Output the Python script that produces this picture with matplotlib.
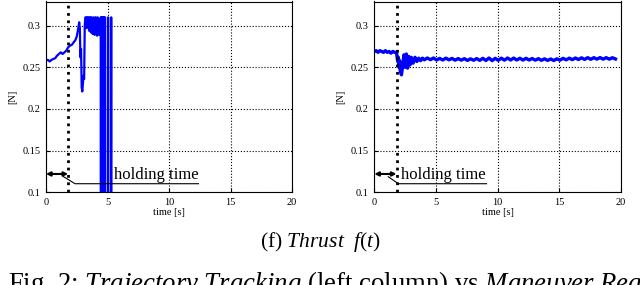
import matplotlib
matplotlib.use("Agg")
import matplotlib.pyplot as plt

plt.rcParams['font.family'] = ['Liberation Serif', 'DejaVu Serif']
plt.rcParams['mathtext.fontset'] = 'custom'
plt.rcParams['mathtext.rm'] = 'Liberation Serif'
plt.rcParams['mathtext.it'] = 'Liberation Serif:italic'

# trajectory tracking thrust (left)
left_t = [0.0, 0.15, 0.3, 0.45, 0.6, 0.75, 0.9, 1.05, 1.2, 1.35, 1.5, 1.65, 1.8, 1.95,
          2.1, 2.25, 2.4, 2.5, 2.6, 2.7, 2.75, 2.8, 2.85, 2.9, 2.95, 3.0, 3.05, 3.1,
          3.15, 3.2, 3.25, 3.3, 3.35, 3.4, 3.45, 3.5, 3.55, 3.6, 3.65, 3.7, 3.75, 3.8,
          3.85, 3.9, 3.95, 4.0, 4.05, 4.1, 4.15, 4.2, 4.25, 4.3,
          4.45, 4.485, 4.52, 4.555, 4.59, 4.625, 4.66, 4.695, 4.73, 4.765, 4.80, 4.92,
          5.05, 5.17, 5.30, 5.34, 20.0]
left_f = [0.258, 0.259, 0.257, 0.259, 0.260, 0.261, 0.264, 0.266, 0.268, 0.266, 0.268, 0.270, 0.274, 0.276,
          0.277, 0.280, 0.283, 0.287, 0.295, 0.304, 0.297, 0.262, 0.272, 0.226, 0.221, 0.230, 0.240, 0.236,
          0.300, 0.310, 0.310, 0.297, 0.310, 0.302, 0.310, 0.294, 0.310, 0.310, 0.292, 0.310, 0.296, 0.290,
          0.310, 0.291, 0.289, 0.310, 0.310, 0.290, 0.288, 0.310, 0.291, 0.289,
          0.310, -5.0, 0.310, -5.0, 0.310, -5.0, 0.310, -5.0, 0.310, -5.0, 0.310, -5.0,
          0.310, -5.0, 0.310, -5.0, -5.0]

# maneuver regulation thrust (right)
right_t = [0.0, 0.15, 0.3, 0.45, 0.6, 0.75, 0.9, 1.05, 1.2, 1.35, 1.5, 1.65, 1.8, 1.85,
           1.9, 1.95, 2.0, 2.05, 2.1, 2.2, 2.3, 2.4, 2.5, 2.6, 2.7, 2.8, 2.9, 3.0,
           3.15, 3.3, 3.45, 3.6, 3.75, 3.9, 4.05,
           4.3, 4.55, 4.8, 5.05, 5.3, 5.55, 5.8, 6.05, 6.3, 6.55, 6.8, 7.05, 7.3, 7.55,
           7.8, 8.05, 8.3, 8.55, 8.8, 9.05, 9.3, 9.55, 9.8, 10.05, 10.3, 10.55, 10.8,
           11.05, 11.3, 11.55, 11.8, 12.05, 12.3, 12.55, 12.8, 13.05, 13.3, 13.55, 13.8,
           14.05, 14.3, 14.55, 14.8, 15.05, 15.3, 15.55, 15.8, 16.05, 16.3, 16.55, 16.8,
           17.05, 17.3, 17.55, 17.8, 18.05, 18.3, 18.55, 18.8, 19.05, 19.3, 19.55]
right_f = [0.269, 0.270, 0.268, 0.270, 0.269, 0.268, 0.270, 0.268, 0.269, 0.267, 0.269, 0.268, 0.268, 0.262,
           0.257, 0.262, 0.250, 0.258, 0.246, 0.241, 0.252, 0.265, 0.250, 0.266, 0.249, 0.263, 0.253, 0.262,
           0.255, 0.262, 0.257, 0.261, 0.258, 0.261, 0.259,
           0.2612, 0.2592, 0.2612, 0.2588, 0.2607, 0.2588, 0.2610, 0.2590, 0.2607, 0.2586, 0.2605, 0.2586, 0.2604, 0.2583,
           0.2602, 0.2585, 0.2605, 0.2584, 0.2608, 0.2582, 0.2612, 0.2580, 0.2608, 0.2584, 0.2610, 0.2586, 0.2612,
           0.2588, 0.2611, 0.2588, 0.2609, 0.2587, 0.2608, 0.2588, 0.2606, 0.2586, 0.2604, 0.2584, 0.2602,
           0.2583, 0.2600, 0.2582, 0.2602, 0.2586, 0.2608, 0.2590, 0.2610, 0.2592, 0.2612, 0.2594, 0.2614,
           0.2595, 0.2616, 0.2596, 0.2616, 0.2598, 0.2617, 0.2598, 0.2616, 0.2598, 0.2615, 0.2600]

xticks = [0, 5, 10, 15, 20]
yticks = [0.1, 0.15, 0.2, 0.25, 0.3]
ytick_labels = ["0.1", "0.15", "0.2", "0.25", "0.3"]
hold_time = 1.8

fig = plt.figure(figsize=(6.4, 2.85), dpi=100)
ax_l = fig.add_axes([46/640, 1 - 192.3/285, 246/640, 190.8/285])
ax_r = fig.add_axes([374.3/640, 1 - 192.3/285, 246.7/640, 190.8/285])

panels = [
    (ax_l, left_t, left_f, 1.6, (1.4, 0.119), [2.36, 12.4], 5.5),
    (ax_r, right_t, right_f, 2.4, (1.13, 0.1187), [1.95, 9.1], 2.2),
]
for ax, t, f, lw, lead0, hline, txt_x in panels:
    ax.plot(t, f, color='#0000ff', lw=lw)
    ax.set_xlim(0, 20)
    ax.set_ylim(0.1, 0.329)
    ax.set_xticks(xticks)
    ax.set_yticks(yticks)
    ax.set_yticklabels(ytick_labels)
    ax.tick_params(direction='in', labelsize=7.5, length=3, pad=4, width=0.8)
    ax.grid(True, color='k', ls=':', lw=0.8)
    ax.axvline(hold_time, color='k', ls=':', lw=2.0)
    for s in ax.spines.values():
        s.set_linewidth(0.8)
    ax.set_xlabel("time [s]", fontsize=7.5, labelpad=1)
    ax.set_ylabel("[N]", fontsize=7.5, labelpad=4)
    # holding-time annotation
    ax.annotate("", xy=(0, 0.122), xytext=(hold_time, 0.122),
                arrowprops=dict(arrowstyle='<|-|>', color='k', lw=1.5,
                                mutation_scale=6, shrinkA=0, shrinkB=0))
    ax.plot([lead0[0], hline[0], hline[1]], [lead0[1], 0.1103, 0.1103], color='k', lw=0.8)
    ax.text(txt_x, 0.1115, "holding time", fontsize=12, ha='left', va='bottom')

fig.text(0.5, 1 - 242/285, r"(f) $\mathit{Thrust}\ \ \mathit{f}(\mathit{t})$",
         fontsize=15.5, ha='center', va='center')
fig.text(8/640, 1 - 291/285,
         r"Fig. 2: $\mathit{Trajectory\ Tracking}$ (left column) vs $\mathit{Maneuver\ Regulation}$ (right column)",
         fontsize=19.3, ha='left', va='baseline')

fig.savefig("out.png", dpi=100)
